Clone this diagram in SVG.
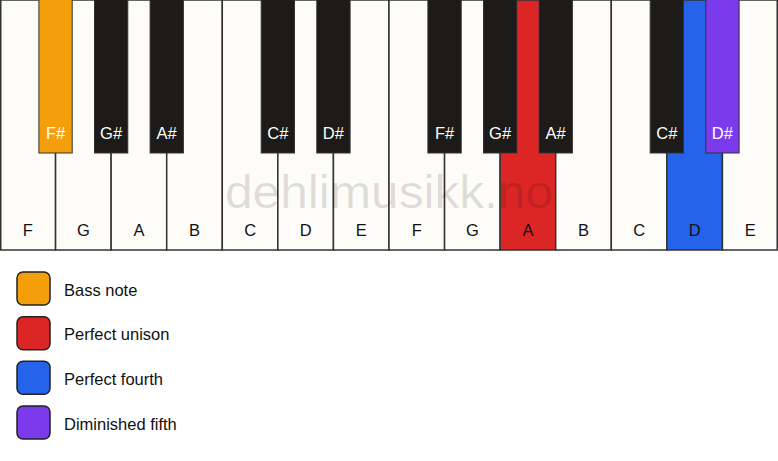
<svg xmlns="http://www.w3.org/2000/svg" width="778" height="461" viewBox="0 0 778 461">
<style>
.w{fill:#fdfcf8;stroke:#333;stroke-width:1.5}
.b{fill:#1c1b1a;stroke:#333;stroke-width:1}
.wl{font-family:"Liberation Sans",Arial,sans-serif;font-size:16.5px;fill:#111;text-anchor:middle}
.bl{font-family:"Liberation Sans",Arial,sans-serif;font-size:16.5px;fill:#fff;text-anchor:middle}
.lg{font-family:"Liberation Sans",Arial,sans-serif;font-size:16.5px;fill:#111}
.sw{stroke:#222;stroke-width:1.5}
</style>
<rect width="778" height="461" fill="#ffffff"/>
<g id="white-keys">
<rect class="w" x="0.75" y="0" width="54.8" height="250"/>
<rect class="w" x="55.57" y="0" width="55.57" height="250"/>
<rect class="w" x="111.14" y="0" width="55.57" height="250"/>
<rect class="w" x="166.71" y="0" width="55.57" height="250"/>
<rect class="w" x="222.29" y="0" width="55.57" height="250"/>
<rect class="w" x="277.86" y="0" width="55.57" height="250"/>
<rect class="w" x="333.43" y="0" width="55.57" height="250"/>
<rect class="w" x="389" y="0" width="55.57" height="250"/>
<rect class="w" x="444.57" y="0" width="55.57" height="250"/>
<rect class="w" x="500.14" y="0" width="55.57" height="250" style="fill:#dc2626"/>
<rect class="w" x="555.71" y="0" width="55.57" height="250"/>
<rect class="w" x="611.29" y="0" width="55.57" height="250"/>
<rect class="w" x="666.86" y="0" width="55.57" height="250" style="fill:#2563eb"/>
<rect class="w" x="722.43" y="0" width="54.8" height="250"/>
</g>
<g id="white-labels">
<text class="wl" x="27.8" y="236">F</text>
<text class="wl" x="83.4" y="236">G</text>
<text class="wl" x="138.9" y="236">A</text>
<text class="wl" x="194.5" y="236">B</text>
<text class="wl" x="250.1" y="236">C</text>
<text class="wl" x="305.6" y="236">D</text>
<text class="wl" x="361.2" y="236">E</text>
<text class="wl" x="416.8" y="236">F</text>
<text class="wl" x="472.4" y="236">G</text>
<text class="wl" x="527.9" y="236">A</text>
<text class="wl" x="583.5" y="236">B</text>
<text class="wl" x="639.1" y="236">C</text>
<text class="wl" x="694.6" y="236">D</text>
<text class="wl" x="750.2" y="236">E</text>
</g>
<g id="black-keys">
<rect class="b" x="38.9" y="-1" width="33.3" height="154" style="fill:#f59e0b"/>
<rect class="b" x="94.5" y="-1" width="33.3" height="154"/>
<rect class="b" x="150.1" y="-1" width="33.3" height="154"/>
<rect class="b" x="261.2" y="-1" width="33.3" height="154"/>
<rect class="b" x="316.8" y="-1" width="33.3" height="154"/>
<rect class="b" x="427.9" y="-1" width="33.3" height="154"/>
<rect class="b" x="483.5" y="-1" width="33.3" height="154"/>
<rect class="b" x="539.1" y="-1" width="33.3" height="154"/>
<rect class="b" x="650.2" y="-1" width="33.3" height="154"/>
<rect class="b" x="705.8" y="-1" width="33.3" height="154" style="fill:#7c3aed"/>
</g>
<g id="black-labels">
<text class="bl" x="55.6" y="139">F#</text>
<text class="bl" x="111.1" y="139">G#</text>
<text class="bl" x="166.7" y="139">A#</text>
<text class="bl" x="277.9" y="139">C#</text>
<text class="bl" x="333.4" y="139">D#</text>
<text class="bl" x="444.6" y="139">F#</text>
<text class="bl" x="500.1" y="139">G#</text>
<text class="bl" x="555.7" y="139">A#</text>
<text class="bl" x="666.9" y="139">C#</text>
<text class="bl" x="722.4" y="139">D#</text>
</g>
<text x="389" y="208" text-anchor="middle" font-family="Liberation Sans,Arial,sans-serif" font-size="46" textLength="328" lengthAdjust="spacingAndGlyphs" fill="#000" fill-opacity="0.12">dehlimusikk.no</text>
<g id="legend">
<g id="legend-bass"><rect class="sw" x="17" y="272" width="33" height="33" rx="6" fill="#f59e0b"/><text class="lg" x="64" y="295.5">Bass note</text></g>
<g id="legend-unison"><rect class="sw" x="17" y="316.7" width="33" height="33" rx="6" fill="#dc2626"/><text class="lg" x="64" y="340.2">Perfect unison</text></g>
<g id="legend-fourth"><rect class="sw" x="17" y="361.3" width="33" height="33" rx="6" fill="#2563eb"/><text class="lg" x="64" y="384.8">Perfect fourth</text></g>
<g id="legend-dim5"><rect class="sw" x="17" y="406" width="33" height="33" rx="6" fill="#7c3aed"/><text class="lg" x="64" y="429.5">Diminished fifth</text></g>
</g>
</svg>
